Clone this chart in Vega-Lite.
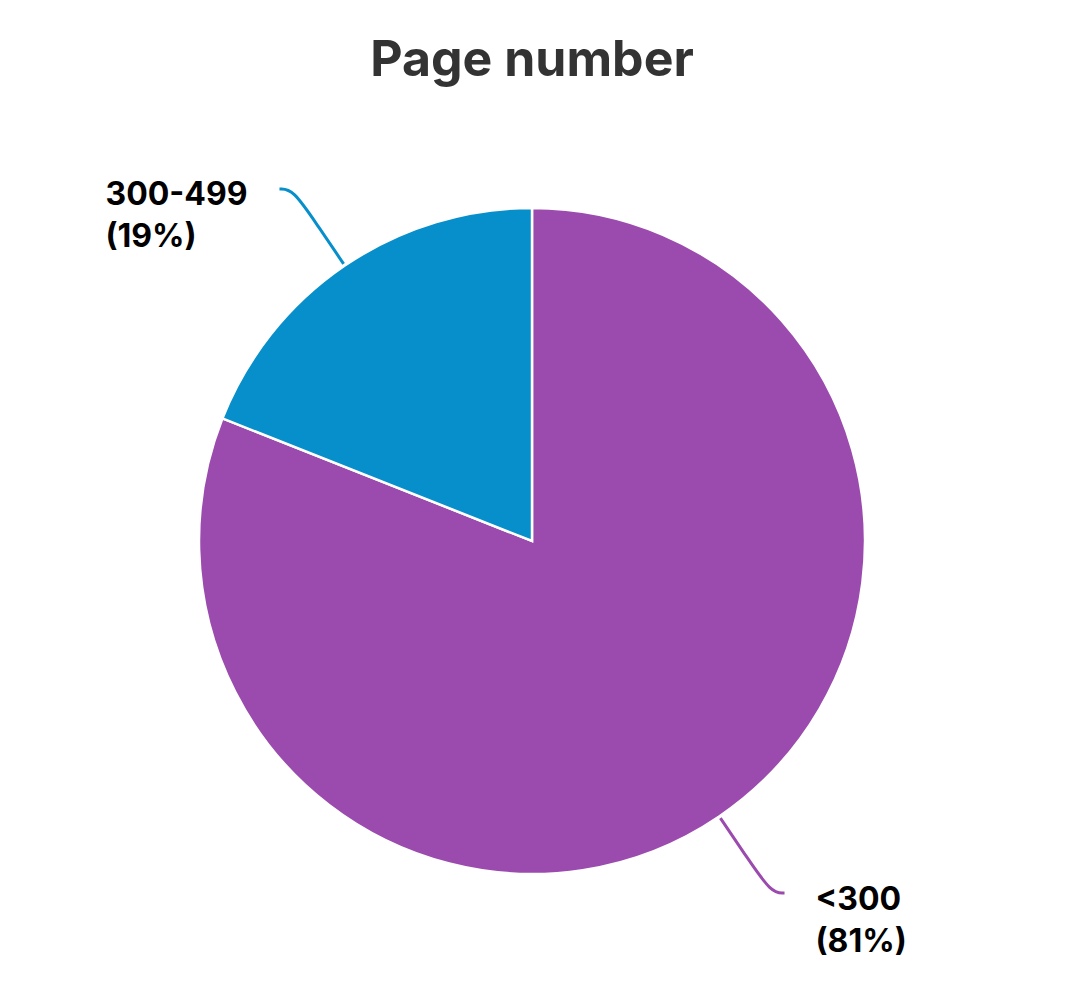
{
  "$schema": "https://vega.github.io/schema/vega-lite/v6.json",
  "width": 1064,
  "height": 880,
  "padding": {"left": 0, "right": 16, "top": 36, "bottom": 0},
  "autosize": {"type": "pad"},
  "background": "white",
  "title": {"text": "Page number", "fontSize": 50, "font": "Inter", "fontWeight": "bold", "color": "#333333", "anchor": "middle", "offset": 15},
  "config": {"view": {"stroke": null}},
  "data": {"values": [
    {"category": "<300", "value": 81},
    {"category": "300-499", "value": 19}
  ]},
  "transform": [
    {"stack": "value", "groupby": [], "sort": [{"field": "value", "order": "descending"}], "as": ["v0", "v1"]},
    {"calculate": "PI * (datum.v0 + datum.v1) / 100", "as": "a"},
    {"calculate": "datum.category + '\\n(' + datum.value + '%)'", "as": "label"}
  ],
  "layer": [
    {
      "mark": {"type": "arc", "outerRadius": 333, "stroke": "white", "strokeWidth": 2.5},
      "encoding": {
        "theta": {"field": "value", "type": "quantitative", "stack": true},
        "order": {"field": "value", "sort": "descending"},
        "color": {"field": "category", "type": "nominal", "scale": {"domain": ["<300", "300-499"], "range": ["#9b4aae", "#068fca"]}, "legend": null}
      }
    },
    {
      "transform": [
        {"calculate": "[1.008, 1.15, 1.28, 1.28]", "as": "r"},
        {"calculate": "[0, 0, 0, 0.04]", "as": "h"},
        {"calculate": "[0, 1, 2, 3]", "as": "k"},
        {"flatten": ["r", "h", "k"]},
        {"calculate": "sin(datum.a) * datum.r + (sin(datum.a) < 0 ? -1 : 1) * datum.h", "as": "x"},
        {"calculate": "cos(datum.a) * datum.r", "as": "y"}
      ],
      "mark": {"type": "line", "interpolate": "basis", "strokeWidth": 3},
      "encoding": {
        "x": {"field": "x", "type": "quantitative", "scale": {"domain": [-1.6, 1.6], "nice": false, "zero": false}, "axis": null},
        "y": {"field": "y", "type": "quantitative", "scale": {"domain": [-1.32331, 1.32331], "nice": false, "zero": false}, "axis": null},
        "order": {"field": "k"},
        "color": {"field": "category", "type": "nominal", "legend": null}
      }
    },
    {
      "transform": [
        {"filter": "datum.category == '300-499'"},
        {"calculate": "sin(datum.a) * 1.28 - 0.04", "as": "x"},
        {"calculate": "cos(datum.a) * 1.28", "as": "y"}
      ],
      "mark": {"type": "text", "align": "left", "baseline": "middle", "dx": -174, "dy": 6, "fontSize": 32, "font": "Inter", "fontWeight": "bold", "lineHeight": 42, "lineBreak": "\n", "color": "#000000"},
      "encoding": {
        "x": {"field": "x", "type": "quantitative"},
        "y": {"field": "y", "type": "quantitative"},
        "text": {"field": "label"}
      }
    },
    {
      "transform": [
        {"filter": "datum.category == '<300'"},
        {"calculate": "sin(datum.a) * 1.28 + 0.04", "as": "x"},
        {"calculate": "cos(datum.a) * 1.28", "as": "y"}
      ],
      "mark": {"type": "text", "align": "left", "baseline": "middle", "dx": 31, "dy": 7, "fontSize": 32, "font": "Inter", "fontWeight": "bold", "lineHeight": 42, "lineBreak": "\n", "color": "#000000"},
      "encoding": {
        "x": {"field": "x", "type": "quantitative"},
        "y": {"field": "y", "type": "quantitative"},
        "text": {"field": "label"}
      }
    }
  ]
}
